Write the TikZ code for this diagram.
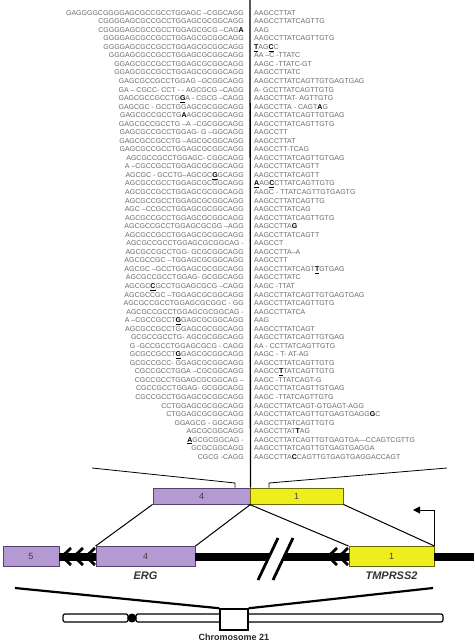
\documentclass[tikz,border=0pt]{standalone}
\usepackage{fontspec}
\setmainfont{Liberation Sans}
\usepackage{tikz}
\usetikzlibrary{arrows.meta, positioning, calc}
\definecolor{ergpurple}{RGB}{180,154,210}
\definecolor{ergborder}{RGB}{85,65,105}
\definecolor{tmpyellow}{RGB}{238,238,30}
\definecolor{tmpborder}{RGB}{105,105,0}
\definecolor{seqgray}{RGB}{105,105,105}
\newcommand{\snp}[1]{\textcolor{black}{\textbf{#1}}}
\newcommand{\snpu}[1]{\textcolor{black}{\underline{\textbf{#1}}}}

\begin{document}
\begin{tikzpicture}[x=1pt, y=-1pt,
  seq/.style={font=\fontsize{7}{7}\selectfont, text=seqgray, inner sep=0pt, text height=5pt, text depth=0pt},
  ergbox/.style={draw=ergborder, fill=ergpurple, line width=0.9pt, inner sep=0pt, text=black!75, font=\fontsize{9}{9}\selectfont},
  tmpbox/.style={draw=tmpborder, fill=tmpyellow, line width=0.9pt, inner sep=0pt, text=black!75, font=\fontsize{9}{9}\selectfont},
  genelab/.style={font=\bfseries\itshape\fontsize{11}{11}\selectfont, text=black!80, inner sep=0pt},
  chev/.style={line width=2.8pt, line join=miter},
  link/.style={line width=1pt},
]
\useasboundingbox (0,0) rectangle (474,644);
\foreach \l/\r [count=\i] in {
  GAGGGGCGGGGAGCGCCGCCTGGAGC –CGGCAGG/AAGCCTTAT,
  CGGGGAGCGCCGCCTGGAGCGCGGCAGG/AAGCCTTATCAGTTG,
  CGGGGAGCGCCGCCTGGAGCGCG –CAG\snp{A}/AAG,
  GGGGAGCGCCGCCTGGAGCGCGGCAGG/AAGCCTTATCAGTTGTG,
  GGGGAGCGCCGCCTGGAGCGCGGCAGG/\snpu{T}AG\snpu{C}C,
  GGGAGCGCCGCCTGGAGCGCGGCAGG/AA –C -TTATC,
  GGAGCGCCGCCTGGAGCGCGGCAGG/AAGC -TTATC-GT,
  GGAGCGCCGCCTGGAGCGCGGCAGG/AAGCCTTATC,
  GAGCGCCGCCTGGAG –GCGGCAGG/AAGCCTTATCAGTTGTGAGTGAG,
  GA – CGCC- CCT - - AGCGCG –CAGG/A- GCCTTATCAGTTGTG,
  GAGCGCCGCCTG\snpu{G}A - CGCG –CAGG/AAGCCTTAT- AGTTGTG,
  GAGCGC - GCCTGGAGCGCGGCAGG/AAGCCTTA - CAGT\snp{A}G,
  GAGCGCCGCCTG\snp{A}AGCGCGGCAGG/AAGCCTTATCAGTTGTGAG,
  GAGCGCCGCCTG –A –CGCGGCAGG/AAGCCTTATCAGTTGTG,
  GAGCGCCGCCTGGAG- G –GGCAGG/AAGCCTT,
  GAGCGCCGCCTG –AGCGCGGCAGG/AAGCCTTAT,
  GAGCGCCGCCTGGAGCGCGGCAGG/AAGCCTT-TCAG,
  AGCGCCGCCTGGAGC- CGGCAGG/AAGCCTTATCAGTTGTGAG,
  A –CGCCGCCTGGAGCGCGGCAGG/AAGCCTTATCAGTT,
  AGCGC - GCCTG–AGCGC\snpu{G}GCAGG/AAGCCTTATCAGTT,
  AGCGCCGCCTGGAGCGCGGCAGG/\snpu{A}AG\snpu{C}CTTATCAGTTGTG,
  AGCGCCGCCTGGAGCGCGGCAGG/AAGC - TTATCAGTTGTGAGTG,
  AGCGCCGCCTGGAGCGCGGCAGG/AAGCCTTATCAGTTG,
  AGC –CCGCCTGGAGCGCGGCAGG/AAGCCTTATCAG,
  AGCGCCGCCTGGAGCGCGGCAGG/AAGCCTTATCAGTTGTG,
  AGCGCCGCCTGGAGCGCGG –AGG/AAGCCTTA\snp{G},
  AGCGCCGCCTGGAGCGCGGCAGG/AAGCCTTATCAGTT,
  AGCGCCGCCTGGAGCGCGGCAG -/AAGCCT,
  AGCGCCGCCTGG- GCGCGGCAGG/AAGCCTTA–A,
  AGCGCCGC –TGGAGCGCGGCAGG/AAGCCTT,
  AGCGC –GCCTGGAGCGCGGCAGG/AAGCCTTATCAGT\snpu{T}GTGAG,
  AGCGCCGCCTGGAG- GCGGCAGG/AAGCCTTATC,
  AGCGC\snpu{C}GCCTGGAGCGCG –CAGG/AAGC -TTAT,
  AGCGCCGC –TGGAGCGCGGCAGG/AAGCCTTATCAGTTGTGAGTGAG,
  AGCGCCGCCTGGAGCGCGGC - GG/AAGCCTTATCAGTTGTG,
  AGCGCCGCCTGGAGCGCGGCAG -/AAGCCTTATCA,
  A –CGCCGCCT\snpu{G}GAGCGCGGCAGG/AAG,
  AGCGCCGCCTGGAGCGCGGCAGG/AAGCCTTATCAGT,
  GCGCCGCCTG- AGCGCGGCAGG/AAGCCTTATCAGTTGTGAG,
  G -GCCGCCTGGAGCGCG - CAGG/AA - CCTTATCAGTTGTG,
  GCGCCGCCT\snpu{G}GAGCGCGGCAGG/AAGC - T- AT-AG,
  GCGCCGCC- GGAGCGCGGCAGG/AAGCCTTATCAGTTGTG,
  CGCCGCCTGGA –CGCGGCAGG/AAGCC\snpu{T}TATCAGTTGTG,
  CGCCGCCTGGAGCGCGGCAG –/AAGC -TTATCAGT-G,
  CGCCGCCTGGAG- GCGGCAGG/AAGCCTTATCAGTTGTGAG,
  CGCCGCCTGGAGCGCGGCAGG/AAGC -TTATCAGTTGTG,
  CCTGGAGCGCGGCAGG/AAGCCTTATCAGT-GTGAGT-AGG,
  CTGGAGCGCGGCAGG/AAGCCTTATCAGTTGTGAGTGAGG\snp{G}C,
  GGAGCG - GGCAGG/AAGCCTTATCAGTTGTG,
  AGCGCGGCAGG/AAGCCTTAT\snp{T}AG,
  \snpu{A}GCGCGGCAG -/AAGCCTTATCAGTTGTGAGTGA---CCAGTCGTTG,
  GCGCGGCAGG/AAGCCTTATCAGTTGTGAGTGAGGA,
  CGCG -CAGG/AAGCCTTA\snp{C}CAGTTGTGAGTGAGGACCAGT%
}{
  \node[seq, anchor=east] (l\i) at (244,{12.7+(\i-1)*8.54}) {\l};
  \node[seq, anchor=west] (r\i) at (254,{12.7+(\i-1)*8.54}) {\r};
}

\node[ergbox, minimum width=97pt, minimum height=16pt] (e4t) at (201.5,496) {4};
\node[tmpbox, minimum width=93pt, minimum height=16pt] (t1t) at (296.5,496) {1};
\coordinate (divtop) at (250,0);
\draw[line width=1.3pt] (divtop) -- (e4t.north east);
\coordinate (zl) at (92,468);
\coordinate (zlk) at (235,483);
\coordinate (zr) at (447,468);
\coordinate (zrk) at (269,483);
\draw[line width=0.8pt] (zl) -- (zlk) -- (zlk |- e4t.north);
\draw[line width=0.8pt] (zr) -- (zrk) -- (zrk |- t1t.north);

\node[ergbox, minimum width=56pt, minimum height=20pt] (e5) at (31,556.5) {5};
\node[ergbox, minimum width=99pt, minimum height=20pt] (e4) at (145.5,556.5) {4};
\node[tmpbox, minimum width=85pt, minimum height=20pt] (t1) at (391.5,556.5) {1};
\coordinate (chrend) at (474,556.5);
\draw[line width=8pt] (e5.east) -- (e4.west);
\draw[line width=8pt] (e4.east) -- (t1.west);
\draw[line width=8pt] (t1.east) -- (chrend);
\foreach \cx in {62,74,86}
  \draw[chev] (\cx+9,548) -- (\cx,556.5) -- (\cx+9,565);
\foreach \cx in {328,339}
  \draw[chev] (\cx+9,548) -- (\cx,556.5) -- (\cx+9,565);

\coordinate (sla) at (278,538);
\coordinate (slb) at (258,580);
\coordinate (slc) at (293,538);
\coordinate (sld) at (273,580);
\fill[white] ($(sla)!0.25!(slb)$) -- ($(slc)!0.25!(sld)$) -- ($(slc)!0.6!(sld)$) -- ($(sla)!0.6!(slb)$) -- cycle;
\draw[line width=2.8pt] (sla) -- (slb);
\draw[line width=2.8pt] (slc) -- (sld);

\draw[link] (e4t.south west) -- (e4.north west);
\draw[link] (e4t.south east) -- (e4.north east);
\draw[link] (t1t.south west) -- (t1.north west);
\draw[link] (t1t.south east) -- (t1.north east);

\coordinate (tss) at (413,510);
\draw[line width=1pt, -{Triangle[length=7pt,width=7pt]}] (t1.north east) |- (tss);

\node[genelab, below=5pt of e4] (erglab) {ERG};
\node[genelab, below=5pt of t1] (tmplab) {TMPRSS2};

\draw[line width=1.2pt, rounded corners=2pt] (63,614) rectangle (128,622);
\draw[line width=1.2pt, rounded corners=2pt] (136,614) rectangle (443,622);
\fill (132,618) ellipse (4.5 and 4.5);
\node[draw, fill=white, line width=1.5pt, minimum width=28pt, minimum height=21pt, inner sep=0pt] (sq) at (234,619.5) {};
\coordinate (chl) at (15,588);
\coordinate (chr) at (433,588);
\draw[line width=2.2pt] (chl) -- (sq.north west);
\draw[line width=2.2pt] (chr) -- (sq.north east);
\node[below=3.5pt of sq, font=\bfseries\fontsize{9}{9}\selectfont, text=black!85, inner sep=0pt] (chrlab) {Chromosome 21};
\end{tikzpicture}
\end{document}
